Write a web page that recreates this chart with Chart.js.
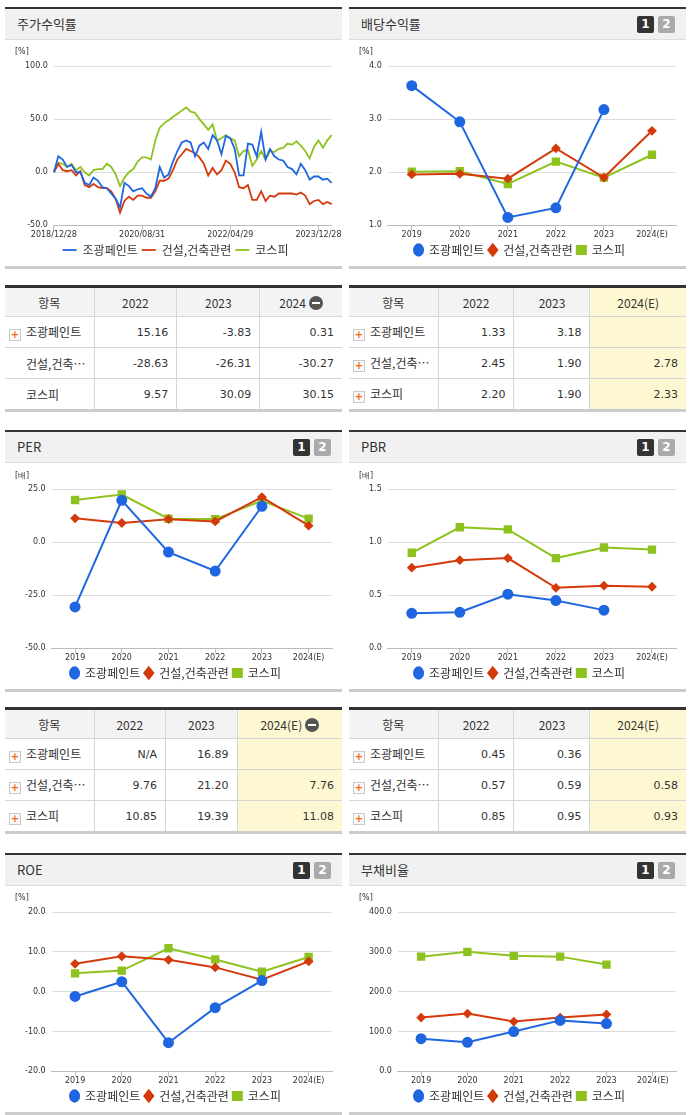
<!DOCTYPE html>
<html><head><meta charset="utf-8">
<script src="https://cdn.jsdelivr.net/npm/chart.js@4"></script>
<style>
body{margin:0;background:#fff;font-family:"Noto Sans CJK KR","Noto Sans",sans-serif;color:#333;width:691px;height:1115px;position:relative;overflow:hidden}
.panel{position:absolute;width:337px;border-top:2px solid #333;border-bottom:3px solid #ccc;background:#fff}
.hd{height:30px;background:#f1f1f1;border-bottom:1px solid #ddd;font-size:13px;line-height:30px;padding-left:12px;position:relative}
.btn{position:absolute;top:7px;width:17px;height:17px;font:bold 12px "DejaVu Sans",sans-serif;color:#fff;text-align:center;line-height:17px;border-radius:2px}
.b1{right:32px;background:#333}.b2{right:11px;background:#aaa}
.unit{position:absolute;left:10px;top:38px;font:8px "DejaVu Sans",sans-serif;color:#333}
canvas{display:block}
table{position:absolute;width:337px;border-collapse:collapse;border-top:3px solid #333;border-bottom:3px solid #ccc;font-size:12px}
th{background:#f3f3f3;font-weight:normal;height:28px;padding:0;border:1px solid #d6d6d6;border-top:none}
td{height:30px;padding:0 8px 0 0;border:1px solid #d6d6d6;text-align:right;font-family:"DejaVu Sans",sans-serif;font-size:11px}
td.n{text-align:left;padding-left:4px;font-family:"Noto Sans CJK KR",sans-serif;font-size:12px;white-space:nowrap}
th:first-child,td:first-child{border-left:none}th:last-child,td:last-child{border-right:none}
td.y{background:#fdf8d2}
.plus{display:inline-block;width:10px;height:10px;border:1px solid #c9c9c9;background:#fafafa;color:#f26a12;font:bold 10px/10px "DejaVu Sans";text-align:center;vertical-align:-1px;margin-right:5px}
.sp{display:inline-block;width:12px;margin-right:5px}
.minus{display:inline-block;width:14px;height:14px;border-radius:7px;background:#555;vertical-align:-2px;position:relative;margin-left:3px}
.minus:after{content:"";position:absolute;left:3px;top:6px;width:8px;height:2px;background:#fff}
</style></head><body>
<script>
// ---------- data ----------
const STOCK_TICKS = {0:"2018/12/28",20:"2020/08/31",40:"2022/04/29",60:"2023/12/28"};
const stockLabels = Array.from({length:64},(_, i)=>STOCK_TICKS[i] || "");
const stockJokwang = [0,15,12,5,7,0,0,-10,-12,-5,-8,-14,-15,-20,-25,-33,-10,-13,-18,-16,-15,-20,-23,-15,5,-5,-2,10,20,28,30,28,15,25,28,22,35,30,17,34,32,22,-3,-3,27,26,15,38,12,22,15,12,11,5,3,-2,8,2,-7,-4,-4,-7,-6,-10];
const stockConst = [0,8,2,1,2,-3,1,-12,-14,-11,-14,-15,-15,-18,-25,-38,-27,-23,-26,-22,-22,-24,-24,-18,-8,-8,-6,2,12,17,22,20,18,14,8,-3,4,-2,2,11,8,0,-14,-15,-12,-26,-26,-18,-27,-22,-23,-20,-20,-20,-20,-21,-19,-22,-30,-27,-26,-30,-28,-30];
const stockKospi = [0,9,8,5,8,2,5,0,-3,2,3,3,8,5,-2,-13,-5,0,3,10,14,14,12,30,42,46,49,52,55,58,61,57,56,50,45,40,45,30,32,35,32,30,15,20,21,6,12,20,12,20,19,22,23,27,26,29,25,20,13,24,30,23,30,35];

const years = ["2019","2020","2021","2022","2023","2024(E)"];
const divJokwang = [3.63,2.95,1.15,1.33,3.18,null];
const divConst = [1.96,1.97,1.88,2.45,1.90,2.78];
const divKospi = [2.01,2.02,1.78,2.20,1.90,2.33];
const perJokwang = [-30.5,19.7,-4.7,-13.6,16.89,null];
const perConst = [11.2,9.0,10.8,9.76,21.20,7.76];
const perKospi = [19.8,22.4,11.0,10.85,19.39,11.08];
const pbrJokwang = [0.33,0.34,0.51,0.45,0.36,null];
const pbrConst = [0.76,0.83,0.85,0.57,0.59,0.58];
const pbrKospi = [0.90,1.14,1.12,0.85,0.95,0.93];
const roeJokwang = [-1.2,2.5,-12.8,-4.0,2.8,null];
const roeConst = [7.0,8.9,8.0,6.1,3.0,7.6];
const roeKospi = [4.6,5.3,10.9,8.1,5.0,8.7];
const debtJokwang = [82,73,100,128,120,null];
const debtConst = [135,145,125,135,143,null];
const debtKospi = [288,300,290,288,268,null];

const names = ["조광페인트","건설,건축관련","코스피"];
const COLORS = ["#1f66e0","#d43a0c","#8dc21f"];
const STYLES = ["circle","rectRot","rect"];

// ---------- layout ----------
function panel(x, y, title, buttons) {
  const d = document.createElement("div");
  d.className = "panel"; d.style.left = x + "px"; d.style.top = y + "px";
  d.innerHTML = `<div class="hd">${title}${buttons ? '<span class="btn b1">1</span><span class="btn b2">2</span>' : ""}</div>`
    + `<div class="unit">${title === "PER" || title === "PBR" ? "[배]" : "[%]"}</div><canvas width="337" height="226"></canvas>`;
  document.body.appendChild(d);
  return d.querySelector("canvas");
}

function lineChart(canvas, labels, series, min, max, step, stock) {
  new Chart(canvas, {
    type: "line",
    data: {
      labels,
      datasets: series.map((s, i) => ({
        label: names[i], data: s, borderColor: COLORS[i], backgroundColor: COLORS[i],
        borderWidth: stock ? 1.8 : 2, pointRadius: stock ? 0 : (i === 1 ? 3.5 : 4.5),
        pointStyle: stock ? "line" : STYLES[i], tension: 0, spanGaps: false,
      })),
    },
    options: {
      responsive: false, animation: false,
      layout: { padding: { left: 14, right: 10, top: 26, bottom: 0 } },
      plugins: {
        legend: {
          position: "bottom",
          labels: { usePointStyle: true, boxWidth: 8, boxHeight: 8, pointStyleWidth: stock ? 14 : 9, padding: 4, color: "#333",
            font: { size: 12, family: "Noto Sans CJK KR" } },
        },
        tooltip: { enabled: false },
      },
      scales: {
        x: {
          offset: !stock,
          grid: { drawOnChartArea: false, tickLength: 5, color: "#bbb" },
          border: { color: "#bbb" },
          ticks: { autoSkip: false, maxRotation: 0, padding: 0, color: "#333", font: { size: 8, family: "DejaVu Sans" },
            callback: (v, i) => stock ? (STOCK_TICKS[i] || null) : labels[i] },
        },
        y: {
          min, max,
          grid: { color: "#dddddd", drawTicks: false },
          border: { display: false },
          ticks: { stepSize: step, padding: 6, color: "#333", font: { size: 8, family: "DejaVu Sans" },
            callback: (v) => v.toFixed(1) },
        },
      },
    },
  });
}

function table(x, y, cols, rows, yellow, minus) {
  const t = document.createElement("table");
  t.style.left = x + "px"; t.style.top = y + "px";
  let h = `<tr><th style="width:84px">항목</th>` + cols.map((c, i) =>
    `<th${yellow && i === 2 ? ' style="background:#fdf8d2"' : ""}>${c}${i === 2 && minus ? '<span class="minus"></span>' : ""}</th>`).join("") + "</tr>";
  rows.forEach((r) => {
    h += `<tr><td class="n">${r.plus ? '<span class="plus">+</span>' : '<span class="sp"></span>'}${r.name}</td>`
      + r.vals.map((v, i) => `<td${yellow && i === 2 ? ' class="y"' : ""}>${v}</td>`).join("") + "</tr>";
  });
  t.innerHTML = h;
  document.body.appendChild(t);
}

const L = 5, R = 349;
lineChart(panel(L, 7, "주가수익률", false), stockLabels, [stockJokwang, stockConst, stockKospi], -50, 100, 50, true);
lineChart(panel(R, 7, "배당수익률", true), years, [divJokwang, divConst, divKospi], 1, 4, 1, false);
lineChart(panel(L, 430, "PER", true), years, [perJokwang, perConst, perKospi], -50, 25, 25, false);
lineChart(panel(R, 430, "PBR", true), years, [pbrJokwang, pbrConst, pbrKospi], 0, 1.5, 0.5, false);
lineChart(panel(L, 853, "ROE", true), years, [roeJokwang, roeConst, roeKospi], -20, 20, 10, false);
lineChart(panel(R, 853, "부채비율", true), years, [debtJokwang, debtConst, debtKospi], 0, 400, 100, false);

const SHORT = "건설,건축…";
table(L, 285, ["2022","2023","2024"], [
  { name: names[0], plus: true, vals: ["15.16","-3.83","0.31"] },
  { name: SHORT, plus: false, vals: ["-28.63","-26.31","-30.27"] },
  { name: names[2], plus: false, vals: ["9.57","30.09","30.15"] }], false, true);
table(R, 285, ["2022","2023","2024(E)"], [
  { name: names[0], plus: true, vals: ["1.33","3.18",""] },
  { name: SHORT, plus: true, vals: ["2.45","1.90","2.78"] },
  { name: names[2], plus: true, vals: ["2.20","1.90","2.33"] }], true, false);
table(L, 707, ["2022","2023","2024(E)"], [
  { name: names[0], plus: true, vals: ["N/A","16.89",""] },
  { name: SHORT, plus: true, vals: ["9.76","21.20","7.76"] },
  { name: names[2], plus: true, vals: ["10.85","19.39","11.08"] }], true, true);
table(R, 707, ["2022","2023","2024(E)"], [
  { name: names[0], plus: true, vals: ["0.45","0.36",""] },
  { name: SHORT, plus: true, vals: ["0.57","0.59","0.58"] },
  { name: names[2], plus: true, vals: ["0.85","0.95","0.93"] }], true, false);
</script>
</body></html>
